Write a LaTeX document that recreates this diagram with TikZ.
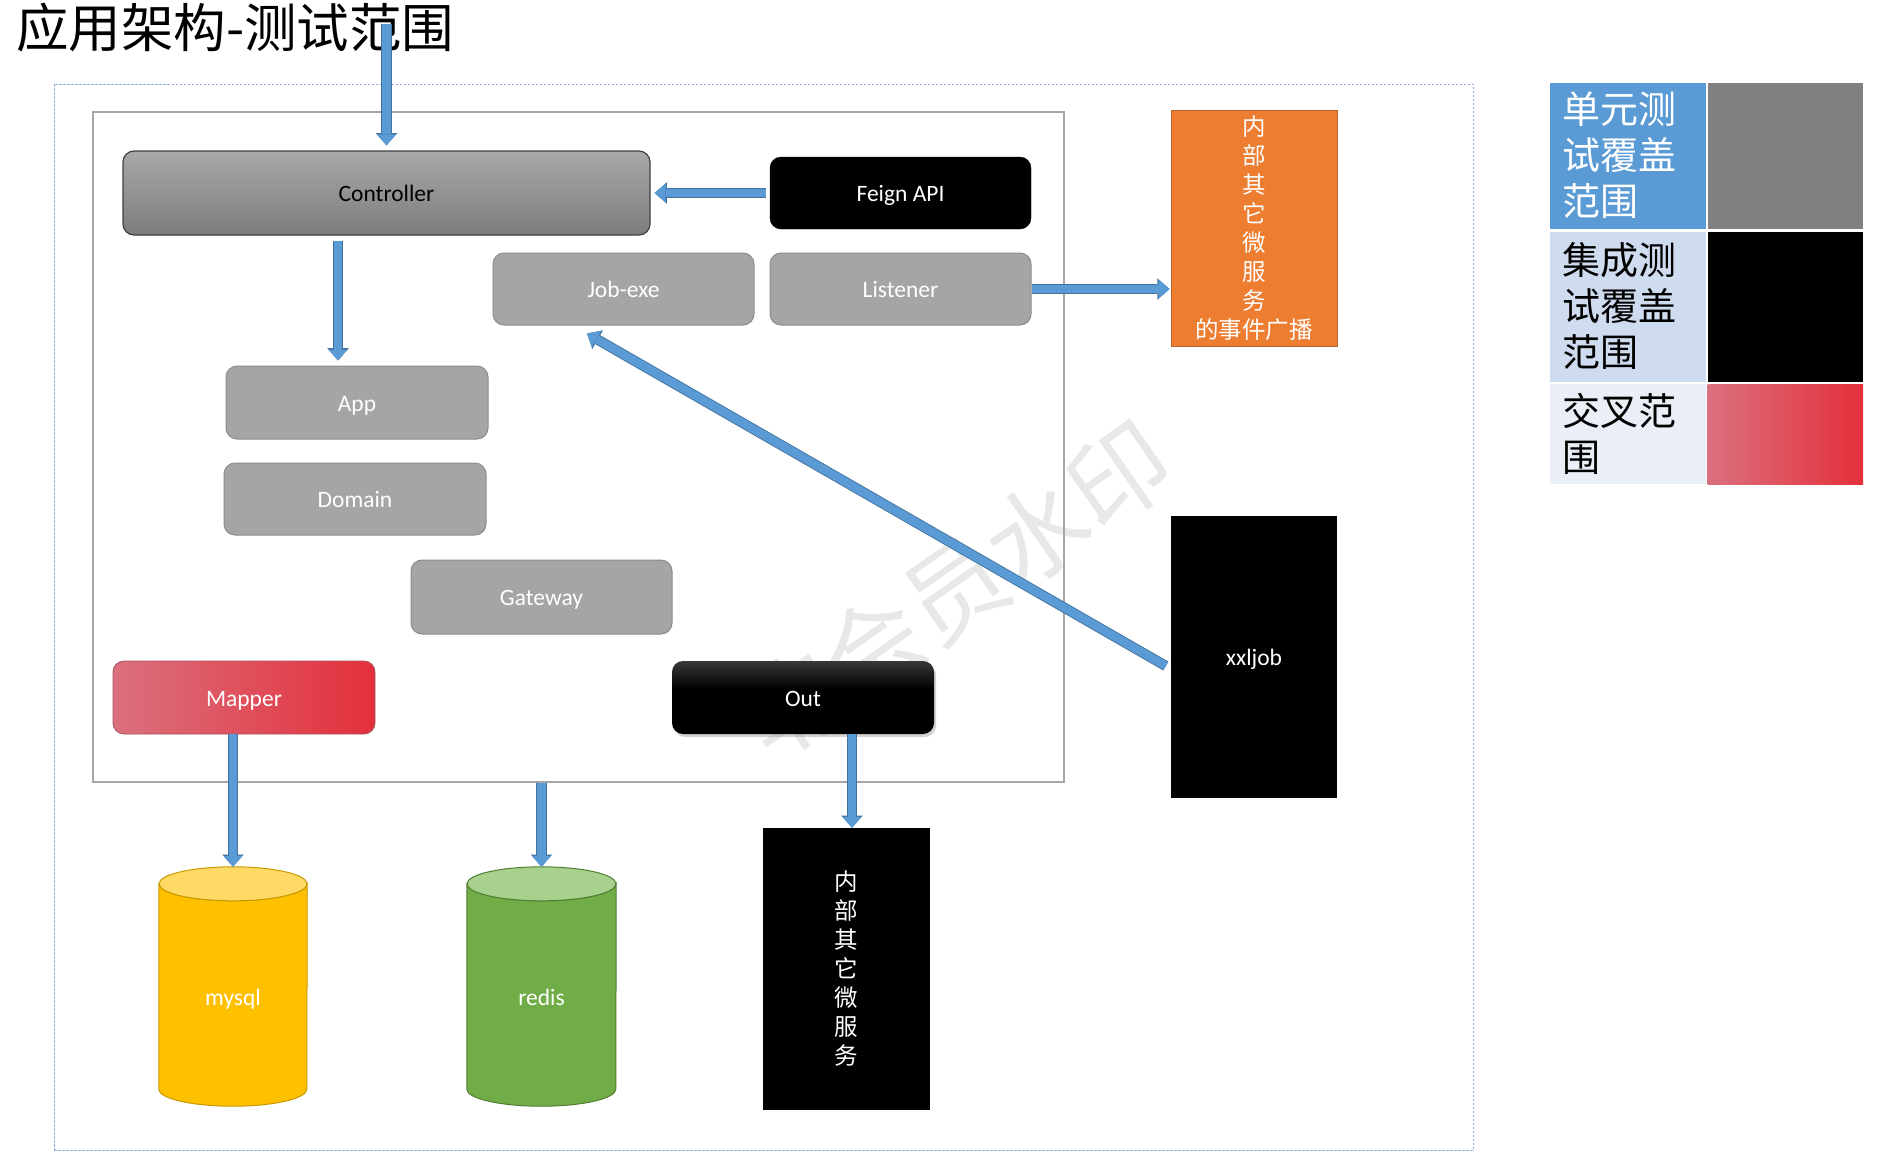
\documentclass[tikz,border=0pt]{standalone}
\usepackage{fontspec}
\setmainfont{Carlito}
\newfontfamily\cjk{Noto Sans CJK SC}
\usetikzlibrary{arrows.meta,calc,shadows}

\definecolor{arrblue}{HTML}{5B9BD5}
\definecolor{arrline}{HTML}{41719C}
\definecolor{boxgray}{HTML}{A5A5A5}
\definecolor{boxline}{HTML}{8C8C8C}
\definecolor{ctrtop}{HTML}{A8A8A8}
\definecolor{ctrbot}{HTML}{7D7D7D}
\definecolor{mapl}{HTML}{DB707E}
\definecolor{mapr}{HTML}{E3303B}
\definecolor{orangef}{HTML}{ED7D31}
\definecolor{oranged}{HTML}{B8662B}
\definecolor{mysqlf}{HTML}{FFC000}
\definecolor{mysqlt}{HTML}{FFD966}
\definecolor{mysqld}{HTML}{C99A00}
\definecolor{redisf}{HTML}{70AD47}
\definecolor{redist}{HTML}{A9D18E}
\definecolor{redisd}{HTML}{507E32}
\definecolor{leg1}{HTML}{5B9BD5}
\definecolor{leg2}{HTML}{CFDBEE}
\definecolor{leg3}{HTML}{E9EEF7}
\definecolor{outerd}{HTML}{8FAADC}
\definecolor{innerl}{HTML}{A6A6A6}
\definecolor{wmark}{HTML}{E8E8E8}

\pgfdeclareverticalshading{outshade}{100bp}{color(0bp)=(black); color(25bp)=(black); color(56bp)=(black); color(75bp)=(black!78); color(100bp)=(black!78)}

\tikzset{
  lab/.style={font=\fontsize{23.5}{28}\selectfont, text height=20pt, text depth=3pt},
  rbox/.style={rounded corners=11pt, minimum width=261pt, minimum height=72pt, inner sep=0pt, lab},
  graybox/.style={rbox, fill=boxgray, draw=boxline, line width=1pt, text=white},
  blackbox/.style={rbox, fill=black, draw=black, text=white},
  vtext/.style={font=\cjk\fontsize{23.5}{29}\selectfont, text=white, align=center, inner sep=0pt},
  legtxt/.style={font=\cjk\fontsize{38}{46}\selectfont, align=left, inner sep=0pt, anchor=north west},
  arr/.style={draw=arrblue, line width=8.5pt,
    -{Triangle[length=11pt,width=19pt,line width=0pt]},
    preaction={draw=arrline, line width=10.2pt, -{Triangle[length=12.3pt,width=21.5pt,line width=0pt]}}},
}

\begin{document}
\begin{tikzpicture}[x=1pt,y=-1pt]
\useasboundingbox (0,0) rectangle (1889,1171);
\fill[white] (0,0) rectangle (1889,1171);

% watermark
\node[font=\cjk\fontsize{100}{100}\selectfont, text=wmark, rotate=35, inner sep=0pt] (wm) at (955,590) {非会员水印};

% title
\node[font=\cjk\fontsize{52.5}{60}\selectfont, anchor=base west, inner sep=0pt] (title) at (16,47) {应用架构-测试范围};

% frames
\node[draw=outerd, line width=1pt, dash pattern=on 2.5pt off 1.5pt, minimum width=1419pt, minimum height=1066pt, inner sep=0pt] (outer) at (763.5,617) {};
\node[draw=innerl, line width=1.6pt, minimum width=971pt, minimum height=670pt, inner sep=0pt] (inner) at (578.5,447) {};

% boxes
\node[rbox, minimum width=527pt, minimum height=84pt, top color=ctrtop, bottom color=ctrbot, draw=black!75, line width=1.2pt, text=black] (ctrl) at (386.5,193) {Controller};
\node[blackbox] (feign) at (900.5,193) {Feign API};
\node[graybox] (jobexe) at (623.5,289) {Job-exe};
\node[graybox] (listener) at (900.5,289) {Listener};
\node[graybox, minimum width=262pt, minimum height=73pt] (app) at (357,402.5) {App};
\node[graybox, minimum width=262pt, minimum height=72pt] (domain) at (355,499) {Domain};
\node[graybox, minimum width=261pt, minimum height=74pt] (gateway) at (541.5,597) {Gateway};
\node[rbox, minimum width=262pt, minimum height=73pt, left color=mapl, right color=mapr, draw=mapl!75!black, line width=0.8pt, text=white] (mapper) at (244,697.5) {Mapper};
\node[rbox, minimum width=262pt, minimum height=73pt, shading=outshade, text=white,
      drop shadow={shadow xshift=2pt, shadow yshift=-3pt, opacity=0.35}] (out) at (803,697.5) {Out};

% right side boxes
\node[fill=orangef, draw=oranged, line width=0.8pt, minimum width=166pt, minimum height=236pt, inner sep=0pt] (orange) at (1254,228) {};
\node[vtext] (orangetxt) at (orange.center) {内\\部\\其\\它\\微\\服\\务\\的事件广播};
\node[fill=black, minimum width=166pt, minimum height=282pt, inner sep=0pt, lab, text=white] (xxljob) at (1254,657) {xxljob};
\node[fill=black, minimum width=167pt, minimum height=282pt, inner sep=0pt] (svc) at (846.5,969) {};
\node[vtext] (svctxt) at (svc.center) {内\\部\\其\\它\\微\\服\\务};

% cylinders
\path node[minimum width=148pt, minimum height=239pt, inner sep=0pt] (mysql) at (233,986.5) {};
\filldraw[fill=mysqlf, draw=mysqld, line width=1pt]
  ($(mysql.north west)+(0,17)$) -- ($(mysql.south west)+(0,-17)$)
  arc[start angle=180, end angle=0, x radius=74, y radius=17]
  -- ($(mysql.north east)+(0,17)$)
  arc[start angle=0, end angle=180, x radius=74, y radius=17] -- cycle;
\filldraw[fill=mysqlt, draw=mysqld, line width=1pt] ($(mysql.north)+(0,17)$) ellipse[x radius=74, y radius=17];
\node[lab, text=white, inner sep=0pt] (mysqltxt) at ($(mysql.center)+(0,10)$) {mysql};

\path node[minimum width=149pt, minimum height=239pt, inner sep=0pt] (redis) at (541.5,986.5) {};
\filldraw[fill=redisf, draw=redisd, line width=1pt]
  ($(redis.north west)+(0,17)$) -- ($(redis.south west)+(0,-17)$)
  arc[start angle=180, end angle=0, x radius=74.5, y radius=17]
  -- ($(redis.north east)+(0,17)$)
  arc[start angle=0, end angle=180, x radius=74.5, y radius=17] -- cycle;
\filldraw[fill=redist, draw=redisd, line width=1pt] ($(redis.north)+(0,17)$) ellipse[x radius=74.5, y radius=17];
\node[lab, text=white, inner sep=0pt] (redistxt) at ($(redis.center)+(0,10)$) {redis};

% legend
\fill[leg1] (1550,83) rectangle (1706,229);
\fill[black!50] (1707.5,83) rectangle (1863,229);
\fill[leg2] (1550,232) rectangle (1706,382);
\fill[black] (1707.5,232) rectangle (1863,382);
\fill[leg3] (1550,384) rectangle (1706,484);
\shade[left color=mapl, right color=mapr] (1707.5,384) rectangle (1863,484);
\node[legtxt, text=white] (leg1t) at (1562,92) {单元测\\试覆盖\\范围};
\node[legtxt, text=black] (leg2t) at (1562,242) {集成测\\试覆盖\\范围};
\node[legtxt, text=black] (leg3t) at (1562,393) {交叉范\\围};

% connectors
\coordinate (entry) at (386.5,24);
\draw[arr] (entry) -- ($(ctrl.north)+(0,-5)$);
\draw[arr] ($(ctrl.south -| app.north)+(-19,5)$) -- ($(app.north)+(-19,-5)$);
\draw[arr] ($(feign.west)+(-4,0)$) -- ($(ctrl.east)+(4,0)$);
\draw[arr] (listener.east) -- ($(listener.east -| orange.west)+(-1,0)$);
\draw[arr] ($(xxljob.west)+(-5,9)$) -- ($(jobexe.south)+(-36.5,8)$);
\draw[arr] (mapper.south -| mysql.north) -- (mysql.north);
\draw[arr] (inner.south -| redis.north) -- (redis.north);
\draw[arr] ($(out.south -| svc.north)+(5.5,0)$) -- ($(svc.north)+(5.5,0)$);
\end{tikzpicture}
\end{document}
